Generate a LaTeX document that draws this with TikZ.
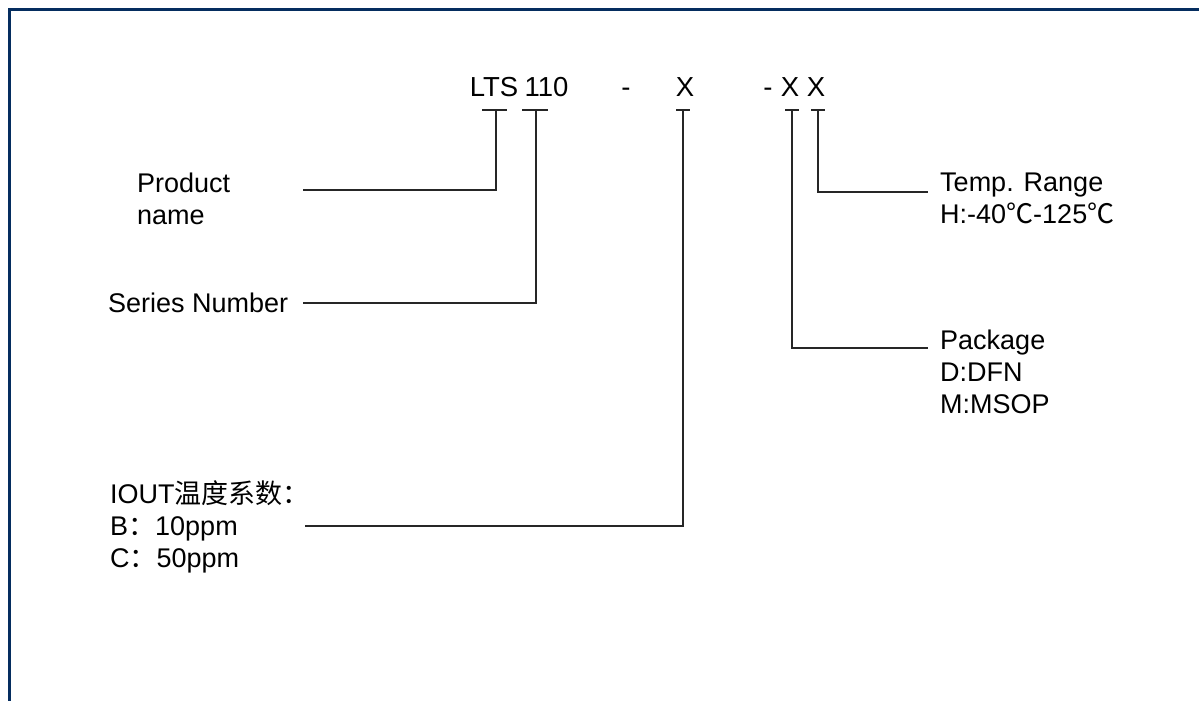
\documentclass[tikz,border=0pt]{standalone}
\usepackage{fontspec}
\setmainfont{Liberation Sans}
\newfontfamily\cjk{Noto Sans CJK SC}
\usepackage{tikz}
\definecolor{framenavy}{RGB}{5,45,95}
\pgfdeclarelayer{edgelayer}
\pgfdeclarelayer{nodelayer}
\pgfsetlayers{edgelayer,nodelayer,main}
\tikzstyle{none}=[inner sep=0pt]
\tikzstyle{code}=[inner sep=0pt, anchor=base, font=\fontsize{27.5}{32}\selectfont]
\tikzstyle{caption}=[inner sep=0pt, anchor=west, align=left, font=\fontsize{27}{32}\selectfont]
\tikzstyle{lead}=[line width=1.8pt, color=black!85]
\tikzstyle{frame}=[line width=3.2pt, color=framenavy]

\begin{document}
\begin{tikzpicture}[x=20pt, y=20pt]
	\useasboundingbox (0, 0) rectangle (59.95, -35.05);
	\begin{pgfonlayer}{nodelayer}
		% part number
		\node [style=code] (0) at (24.7, -4.8) {LTS};
		\node [style=code] (1) at (27.33, -4.8) {110};
		\node [style=code] (2) at (31.3, -4.8) {-};
		\node [style=code] (3) at (34.25, -4.8) {X};
		\node [style=code] (4) at (38.4, -4.8) {-};
		\node [style=code] (5) at (39.5, -4.8) {X};
		\node [style=code] (6) at (40.8, -4.8) {X};
		% ticks under the fields
		\node [style=none] (7) at (24.1, -5.5) {};
		\node [style=none] (8) at (25.35, -5.5) {};
		\node [style=none] (9) at (24.8, -5.5) {};
		\node [style=none] (10) at (24.8, -9.5) {};
		\node [style=none] (11) at (15.15, -9.5) {};
		\node [style=none] (12) at (26.1, -5.5) {};
		\node [style=none] (13) at (27.4, -5.5) {};
		\node [style=none] (14) at (26.8, -5.5) {};
		\node [style=none] (15) at (26.8, -15.15) {};
		\node [style=none] (16) at (15.15, -15.15) {};
		\node [style=none] (17) at (33.8, -5.5) {};
		\node [style=none] (18) at (34.5, -5.5) {};
		\node [style=none] (19) at (34.15, -5.5) {};
		\node [style=none] (20) at (34.15, -26.3) {};
		\node [style=none] (21) at (15.25, -26.3) {};
		\node [style=none] (22) at (39.25, -5.5) {};
		\node [style=none] (23) at (39.95, -5.5) {};
		\node [style=none] (24) at (39.6, -5.5) {};
		\node [style=none] (25) at (39.6, -17.4) {};
		\node [style=none] (26) at (46.4, -17.4) {};
		\node [style=none] (27) at (40.55, -5.5) {};
		\node [style=none] (28) at (41.25, -5.5) {};
		\node [style=none] (29) at (40.9, -5.5) {};
		\node [style=none] (30) at (40.9, -9.6) {};
		\node [style=none] (31) at (46.4, -9.6) {};
		% captions
		\node [style=caption] (32) at (6.85, -9.95) {Product\\name};
		\node [style=caption] (33) at (5.4, -15.15) {Series Number};
		\node [style=caption] (34) at (5.5, -26.35) {IOUT{\cjk 温度系数：}\\B{\cjk ：}10ppm\\C{\cjk ：}50ppm};
		\node [style=caption] (35) at (47, -9.9) {Temp. Range\\H:-40{\cjk ℃}-125{\cjk ℃}};
		\node [style=caption] (36) at (47, -18.6) {Package\\D:DFN\\M:MSOP};
		% frame corners
		\node [style=none] (37) at (0.475, -35.05) {};
		\node [style=none] (38) at (0.475, -0.475) {};
		\node [style=none] (39) at (59.95, -0.475) {};
	\end{pgfonlayer}
	\begin{pgfonlayer}{edgelayer}
		\draw [style=frame] (37.center) to (38.center) to (39.center);
		\draw [style=lead] (7.center) to (8.center);
		\draw [style=lead] (9.center) to (10.center) to (11.center);
		\draw [style=lead] (12.center) to (13.center);
		\draw [style=lead] (14.center) to (15.center) to (16.center);
		\draw [style=lead] (17.center) to (18.center);
		\draw [style=lead] (19.center) to (20.center) to (21.center);
		\draw [style=lead] (22.center) to (23.center);
		\draw [style=lead] (24.center) to (25.center) to (26.center);
		\draw [style=lead] (27.center) to (28.center);
		\draw [style=lead] (29.center) to (30.center) to (31.center);
	\end{pgfonlayer}
\end{tikzpicture}
\end{document}
